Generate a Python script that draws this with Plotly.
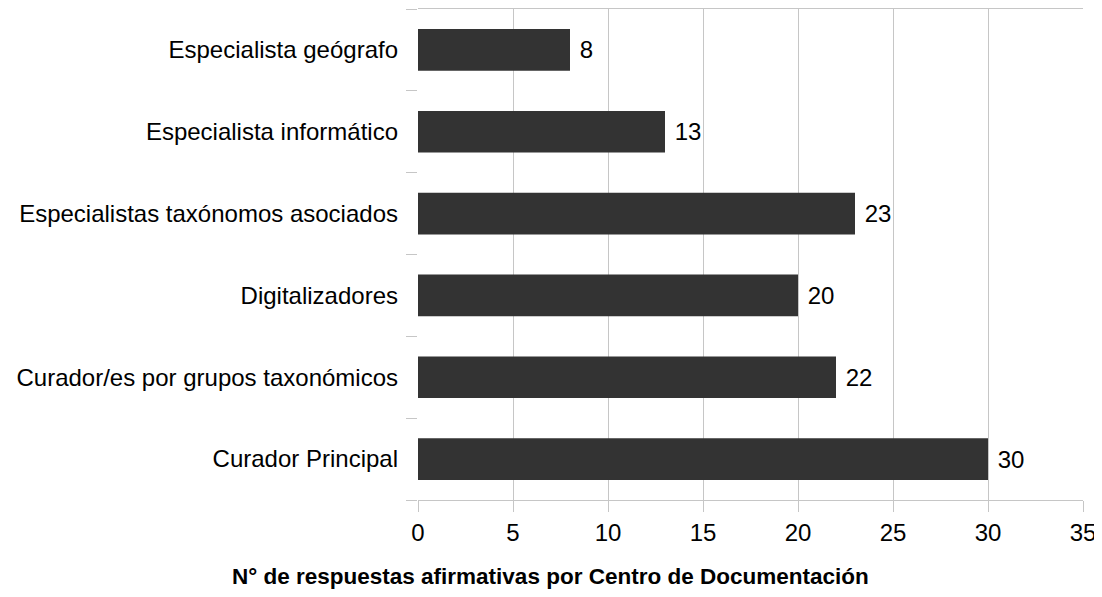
import plotly.graph_objects as go

categories = [
    "Curador Principal",
    "Curador/es por grupos taxonómicos",
    "Digitalizadores",
    "Especialistas taxónomos asociados",
    "Especialista informático",
    "Especialista geógrafo",
]
values = [30, 22, 20, 23, 13, 8]
x_ticks = [0, 5, 10, 15, 20, 25, 30, 35]
x_title = "N° de respuestas afirmativas por Centro de Documentación"

FONT = "Liberation Sans, Arial, sans-serif"
GRID = "#c6c6c6"
# the page puts the figure 8px in from the top-left corner
OFF = 8
W, H = 1102 - OFF, 597 - OFF
L, R, T, B = 418 - OFF, 19, 1, 97

fig = go.Figure(go.Bar(
    x=values, y=categories, orientation="h",
    marker=dict(color="#333333", line=dict(width=0)),
    width=0.51,
    text=[" " + str(v) for v in values], textposition="outside",
    textfont=dict(family=FONT, size=24, color="#000000"),
    cliponaxis=False,
))

fig.update_layout(
    width=W, height=H,
    margin=dict(l=L, r=R, t=T, b=B),
    plot_bgcolor="white", paper_bgcolor="white",
    showlegend=False,
    font=dict(family=FONT, size=24, color="#000000"),
)
fig.update_xaxes(
    range=[0, 35], tickvals=x_ticks, automargin=False,
    showgrid=True, gridcolor=GRID, gridwidth=1,
    showline=True, linecolor=GRID, linewidth=1, mirror=True,
    ticks="outside", ticklen=11, tickcolor=GRID,
    zeroline=False,
)
fig.update_yaxes(
    type="category", categoryorder="array", categoryarray=categories,
    automargin=False, showgrid=False, showline=False,
    ticks="outside", tickson="boundaries", ticklen=11, tickcolor=GRID,
    ticklabelstandoff=19,
)
# title centred on the whole figure, not the plot area
fig.add_annotation(
    text="<b>" + x_title + "</b>",
    x=(550 - OFF - L) / (W - L - R), y=-(576 - OFF - (H - B)) / (H - T - B),
    xref="paper", yref="paper", xanchor="center", yanchor="middle",
    showarrow=False, font=dict(family=FONT, size=22.5, color="#000000"),
)

fig.write_html("out.html")
